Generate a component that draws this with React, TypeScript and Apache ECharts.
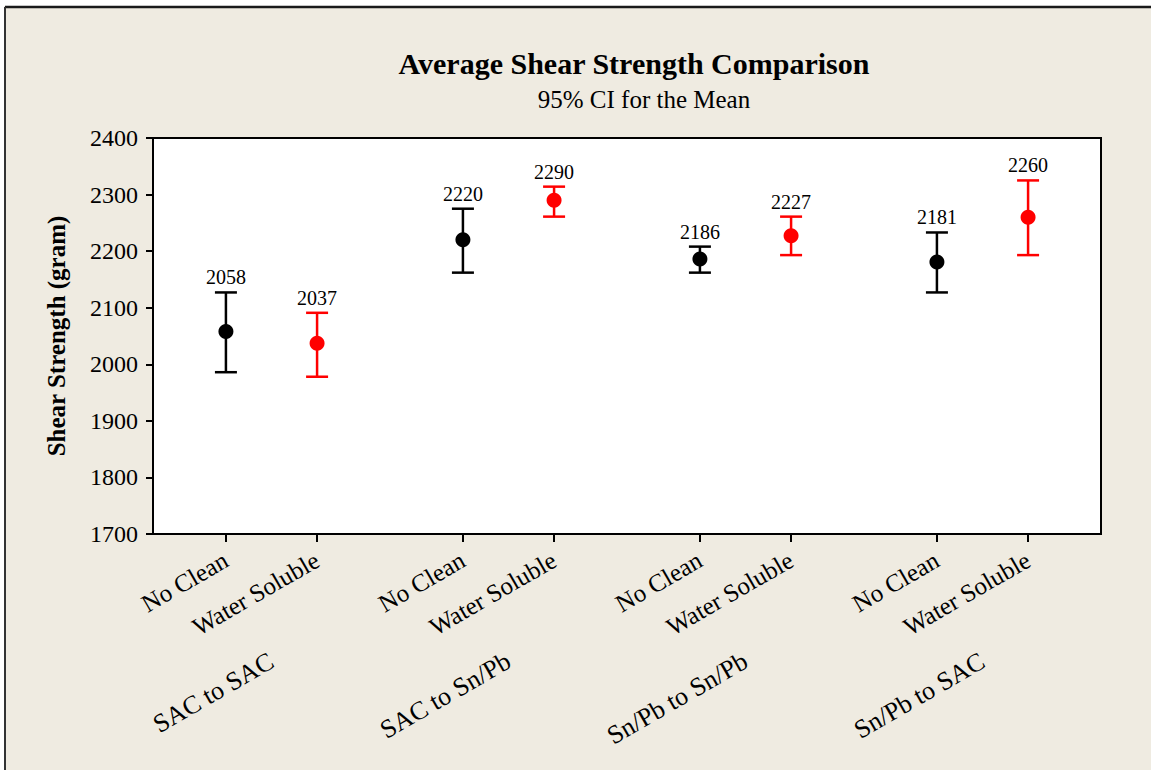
import React, { useEffect, useRef } from "react";
import * as echarts from "echarts";

// Joint combinations (groups along the x axis) and flux types within each group
const groups = ["SAC to SAC", "SAC to Sn/Pb", "Sn/Pb to Sn/Pb", "Sn/Pb to SAC"];
const fluxes = ["No Clean", "Water Soluble"];

// Mean shear strength (gram), ordered group by group, No Clean then Water Soluble
const means = [2058, 2037, 2220, 2290, 2186, 2227, 2181, 2260];
// 95% confidence interval bounds for each mean
const lower = [1986, 1978, 2162, 2261, 2162, 2193, 2127, 2193];
const upper = [2127, 2091, 2275, 2314, 2208, 2261, 2233, 2325];

const yTicks = { min: 1700, max: 2400, interval: 100 };

const fluxColors = ["#000000", "#ff0000"];
const FONT = '"Liberation Serif", "Times New Roman", serif';

// spacing between group starts on the value-type x axis (one unit per flux)
const GROUP_STEP = 2.6;
const posOf = (g: number, f: number) => +(g * GROUP_STEP + f + 1).toFixed(2);

export default function App() {
  const ref = useRef<HTMLDivElement>(null);

  useEffect(() => {
    document.body.style.margin = "0";
    if (!ref.current) return;
    const chart = echarts.init(ref.current, null, { renderer: "svg" });

    const positions: number[] = [];
    const posLabel = new Map<string, string>();
    groups.forEach((_, g) =>
      fluxes.forEach((fl, f) => {
        const p = posOf(g, f);
        positions.push(p);
        posLabel.set(p.toFixed(2), fl);
      })
    );
    const groupCenters = groups.map((_, g) => +((posOf(g, 0) + posOf(g, 1)) / 2).toFixed(2));
    const groupLabel = new Map<string, string>();
    groupCenters.forEach((c, g) => groupLabel.set(c.toFixed(2), groups[g]));

    const series: any[] = [];
    fluxes.forEach((fl, f) => {
      const rows = groups.map((_, g) => {
        const i = g * fluxes.length + f;
        return [posOf(g, f), lower[i], upper[i], means[i]];
      });
      series.push({
        name: fl + " CI",
        type: "custom",
        xAxisIndex: 0,
        yAxisIndex: 0,
        itemStyle: { color: fluxColors[f] },
        encode: { x: 0, y: [1, 2] },
        data: rows,
        z: 3,
        renderItem: (_params: any, api: any) => {
          const x = api.value(0);
          const lo = api.coord([x, api.value(1)]);
          const hi = api.coord([x, api.value(2)]);
          const mean = api.value(3);
          const half = 11;
          const color = fluxColors[f];
          const st = { stroke: color, lineWidth: 2.5 };
          return {
            type: "group",
            children: [
              { type: "line", shape: { x1: lo[0], y1: lo[1], x2: hi[0], y2: hi[1] }, style: st },
              { type: "line", shape: { x1: lo[0] - half, y1: lo[1], x2: lo[0] + half, y2: lo[1] }, style: st },
              { type: "line", shape: { x1: hi[0] - half, y1: hi[1], x2: hi[0] + half, y2: hi[1] }, style: st },
              {
                type: "text",
                x: hi[0],
                y: hi[1] - 5,
                style: {
                  text: String(mean),
                  fill: "#000",
                  font: `20px ${FONT}`,
                  align: "center",
                  verticalAlign: "bottom",
                },
              },
            ],
          };
        },
      });
      series.push({
        name: fl,
        type: "scatter",
        xAxisIndex: 0,
        yAxisIndex: 0,
        symbol: "circle",
        symbolSize: 15,
        itemStyle: { color: fluxColors[f], opacity: 1 },
        data: rows.map((r) => [r[0], r[3]]),
        z: 4,
      });
    });

    const option: any = {
      animation: false,
      backgroundColor: "#EFEBE1",
      textStyle: { fontFamily: FONT },
      graphic: [
        // outer frame
        { type: "rect", shape: { x: 0, y: 0, width: 1151, height: 6 }, style: { fill: "#fff" } },
        { type: "rect", shape: { x: 0, y: 0, width: 4, height: 770 }, style: { fill: "#fff" } },
        { type: "line", shape: { x1: 5, y1: 7, x2: 1151, y2: 7 }, style: { stroke: "#1a1a1a", lineWidth: 2.5 } },
        { type: "line", shape: { x1: 5, y1: 7, x2: 5, y2: 770 }, style: { stroke: "#333", lineWidth: 2 } },
        {
          type: "text",
          x: 634,
          y: 63,
          style: {
            text: "Average Shear Strength Comparison",
            font: `bold 30px ${FONT}`,
            fill: "#000",
            align: "center",
            verticalAlign: "middle",
          },
        },
        {
          type: "text",
          x: 644,
          y: 99,
          style: {
            text: "95% CI for the Mean",
            font: `25px ${FONT}`,
            fill: "#000",
            align: "center",
            verticalAlign: "middle",
          },
        },
        {
          type: "text",
          x: 56,
          y: 336,
          rotation: Math.PI / 2,
          style: {
            text: "Shear Strength (gram)",
            font: `bold 25px ${FONT}`,
            fill: "#000",
            align: "center",
            verticalAlign: "middle",
          },
        },
      ],
      grid: {
        left: 153,
        top: 138,
        width: 948,
        height: 396,
        show: true,
        backgroundColor: "#ffffff",
        borderColor: "#000",
        borderWidth: 2,
      },
      xAxis: [
        {
          type: "value",
          min: 0.2,
          max: 10.6,
          position: "bottom",
          splitLine: { show: false },
          axisLine: { show: true, lineStyle: { color: "#000", width: 2 } },
          axisTick: {
            show: true,
            customValues: positions,
            length: 8,
            inside: false,
            lineStyle: { color: "#000", width: 2 },
          },
          axisLabel: {
            customValues: positions,
            rotate: 30,
            margin: 24,
            color: "#000",
            fontSize: 25,
            fontFamily: FONT,
            formatter: (v: number) => posLabel.get(v.toFixed(2)) ?? "",
          },
        },
        {
          type: "value",
          min: 0.2,
          max: 10.6,
          position: "bottom",
          splitLine: { show: false },
          axisLine: { show: false },
          axisTick: { show: false },
          axisLabel: {
            customValues: groupCenters,
            rotate: 30,
            margin: 125,
            color: "#000",
            fontSize: 26,
            fontFamily: FONT,
            formatter: (v: number) => groupLabel.get(v.toFixed(2)) ?? "",
          },
        },
      ],
      yAxis: {
        type: "value",
        min: yTicks.min,
        max: yTicks.max,
        interval: yTicks.interval,
        splitLine: { show: false },
        axisLine: { show: true, lineStyle: { color: "#000", width: 2 } },
        axisTick: { show: true, length: 7, lineStyle: { color: "#000", width: 2 } },
        axisLabel: {
          margin: 15,
          color: "#000",
          fontSize: 24,
          fontFamily: FONT,
          formatter: (v: number) => String(v),
        },
      },
      series,
    };

    chart.setOption(option);
    return () => chart.dispose();
  }, []);

  return <div ref={ref} style={{ width: 1151, height: 770 }} />;
}
